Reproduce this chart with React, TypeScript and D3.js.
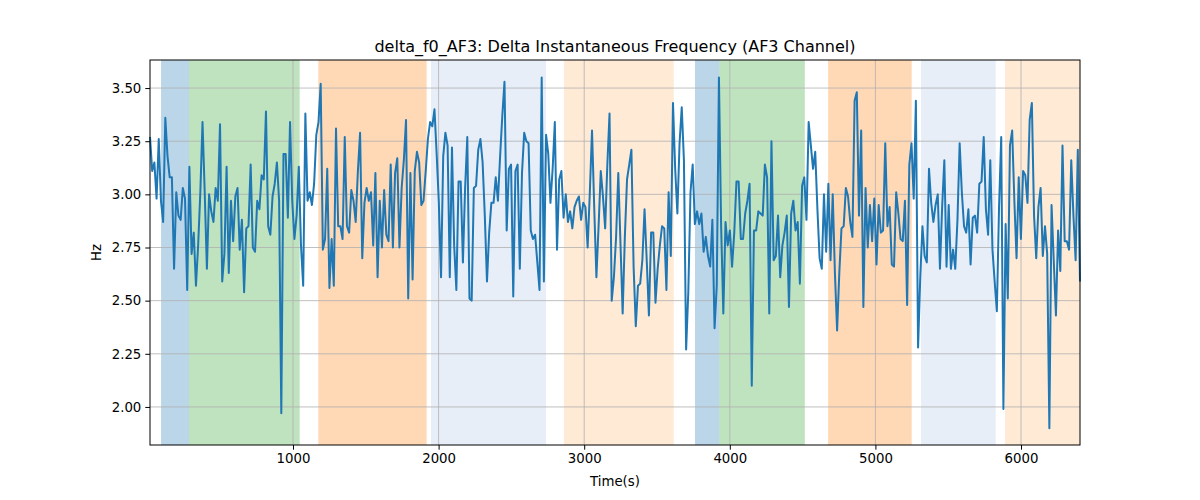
import React, { useEffect, useRef } from "react";
import * as d3 from "d3";

// values, one per sample (uniform sampling step)
const seriesA = [3.27,3.11,3.15,2.98,3.26,2.97,2.87,3.36,3.18,3.08,3.08,2.65,3.01,2.90,2.88,3.03,2.98,2.55,3.13,2.72,2.82,2.57,2.76,3.01,3.34,3.01,2.65,3.00,2.92,2.87,3.03,2.97,3.33,2.59,2.72,3.13,2.63,2.97,2.78,2.99,3.03,2.74,2.88,2.54,2.84,2.85,3.14,2.75,2.73,2.97,2.93,3.09,3.07,3.39,2.85,2.81,2.99,3.05,3.15,2.97,1.97,3.19,3.19,2.89,3.34,2.97,2.79,2.90,3.13,2.76,2.57,3.38];
const seriesB = [2.97,3.01,2.95,3.05,3.28,3.34,3.52,2.74,2.79,3.12,2.56,2.79,2.57,3.31,2.85,2.85,2.79,3.27,2.85,2.82,3.02,2.97,2.87,3.11,3.29,2.70,2.96,3.03,2.97,3.01,2.76,3.10,2.61,2.97,2.75,3.02,2.81,2.78,3.14,2.75,3.10,3.17,2.75,3.03,3.16,3.35,2.51,3.10,2.60,3.11,3.20,3.15,2.95,2.97,3.11,3.26,3.34,3.32,3.40,3.19,2.96,2.61,3.18,3.29,3.23,2.61,3.22,2.76,2.55,3.06,3.06,2.68];
const seriesC = [3.03,3.27,2.51,2.50,3.03,3.04,3.21,3.26,3.15,2.90,2.59,2.82,2.96,2.96,3.08,2.97,3.18,3.37,3.53,2.83,3.12,3.14,2.52,3.11,3.14,2.65,3.10,3.29,3.25,3.24,2.83,2.79,2.81,2.68,2.55,3.55,2.59,3.28,3.19,2.96,3.12,3.34,2.74,3.07,3.11,2.89,3.00,2.87,2.92,2.84,2.94,2.97,2.99,2.88,2.96,2.94,2.75,3.01,3.30,2.94,2.61,2.85,3.11,2.99,2.84,3.14,3.38,2.50,2.61,2.80,3.10];
const seriesD = [2.77,2.44,2.80,3.07,3.14,3.21,2.66,2.38,2.57,2.58,2.69,2.93,2.69,2.43,2.82,2.82,2.49,2.65,2.76,2.85,2.84,2.55,3.01,2.71,3.43,3.12,2.91,3.24,3.41,3.16,2.27,2.54,3.01,3.14,2.86,2.92,2.86,2.91,2.73,2.80,2.71,2.66,2.88,2.37,2.57,3.55,2.85,2.44,2.87,2.76,2.83,2.66,2.82,3.06,3.06,2.79,2.79,2.91,2.97,3.05,2.10,2.83,2.83,2.92,2.91,2.90,3.14,3.08,2.44,3.25,2.69];
const seriesE = [2.71,2.90,2.61,2.76,2.82,2.90,2.47,2.91,2.97,2.83,2.87,2.58,3.04,3.08,2.88,3.34,3.23,3.12,3.20,2.93,2.70,2.65,3.00,2.73,3.05,2.69,3.00,2.63,2.36,2.63,2.84,2.85,3.03,2.99,2.87,2.80,3.44,3.48,2.90,3.30,2.47,3.03,2.75,2.95,2.78,2.98,2.67,2.95,2.82,2.83,3.24,2.85,2.94,2.67,2.66,3.01,2.91,2.79,2.78,2.97,2.48,3.14,3.24,2.98,3.44,2.28,2.61,2.85,2.71,2.68,3.12];
const seriesF = [2.96,2.87,2.95,3.00,2.65,2.94,3.16,2.66,2.95,2.65,2.74,2.65,2.88,3.24,3.01,2.85,2.82,2.93,2.67,2.89,2.90,2.82,3.05,3.06,3.27,2.93,2.81,3.16,2.74,2.59,2.45,2.94,3.27,1.99,2.86,2.51,3.23,3.30,2.97,2.70,3.08,2.79,3.11,3.09,2.96,3.35,3.43,2.90,2.70,2.94,3.03,2.71,2.85,2.72,1.90,2.95,2.69,2.43,2.83,2.64,3.23,2.78,2.78,2.74,3.16,2.90,2.69,3.21,2.59];

const values = [...seriesA, ...seriesB, ...seriesC, ...seriesD, ...seriesE, ...seriesF];
const timeStart = 18;
const timeEnd = 6405;

// shaded segments (start, end, colour)
const bandStarts = [94, 286, 1174, 1948, 2861, 3761, 3928, 4675, 5313, 5890];
const bandEnds = [286, 1046, 1918, 2738, 3615, 3928, 4515, 5249, 5826, 6405];
const bandColors = ["#1f77b4", "#2ca02c", "#ff7f0e", "#aec7e8", "#ffbb78", "#1f77b4", "#2ca02c", "#ff7f0e", "#aec7e8", "#ffbb78"];

const xTicks = [1000, 2000, 3000, 4000, 5000, 6000];
const yTicks = [2.0, 2.25, 2.5, 2.75, 3.0, 3.25, 3.5];

const W = 1200;
const H = 500;
const margin = { top: 60, right: 120, bottom: 55, left: 150 };
const font = "DejaVu Sans, sans-serif";

const App: React.FC = () => {
  const svgRef = useRef<SVGSVGElement | null>(null);

  useEffect(() => {
    if (!svgRef.current) return;
    const svg = d3.select(svgRef.current);
    svg.selectAll("*").remove();

    const iw = W - margin.left - margin.right;
    const ih = H - margin.top - margin.bottom;

    const step = (timeEnd - timeStart) / (values.length - 1);
    const points = values.map((v, i) => ({ t: timeStart + i * step, v }));

    const x = d3.scaleLinear().domain([timeStart, timeEnd]).range([0, iw]);
    const y = d3.scaleLinear().domain([1.821, 3.632]).range([ih, 0]);

    const g = svg.append("g").attr("transform", `translate(${margin.left},${margin.top})`);

    // bands
    g.selectAll(".band")
      .data(bandStarts.map((s, i) => ({ s, e: bandEnds[i], c: bandColors[i] })))
      .enter()
      .append("rect")
      .attr("x", (d) => x(d.s))
      .attr("width", (d) => x(d.e) - x(d.s))
      .attr("y", 0)
      .attr("height", ih)
      .attr("fill", (d) => d.c)
      .attr("fill-opacity", 0.3);

    // grid
    g.selectAll(".gx")
      .data(xTicks)
      .enter()
      .append("line")
      .attr("x1", (d) => x(d))
      .attr("x2", (d) => x(d))
      .attr("y1", 0)
      .attr("y2", ih)
      .attr("stroke", "#b0b0b0")
      .attr("stroke-width", 0.8);
    g.selectAll(".gy")
      .data(yTicks)
      .enter()
      .append("line")
      .attr("x1", 0)
      .attr("x2", iw)
      .attr("y1", (d) => y(d))
      .attr("y2", (d) => y(d))
      .attr("stroke", "#b0b0b0")
      .attr("stroke-width", 0.8);

    // series line
    const line = d3.line<{ t: number; v: number }>().x((d) => x(d.t)).y((d) => y(d.v));
    g.append("path")
      .datum(points)
      .attr("d", line)
      .attr("fill", "none")
      .attr("stroke", "#1f77b4")
      .attr("stroke-width", 2)
      .attr("stroke-linejoin", "round");

    // axes
    const xAxis = g.append("g")
      .attr("transform", `translate(0,${ih})`)
      .call(d3.axisBottom(x).tickValues(xTicks).tickSize(4.7).tickPadding(4).tickFormat(d3.format("d")));
    const yAxis = g.append("g")
      .call(d3.axisLeft(y).tickValues(yTicks).tickSize(4.7).tickPadding(4).tickFormat(d3.format(".2f")));
    [xAxis, yAxis].forEach((a) => {
      a.select(".domain").remove();
      a.selectAll("text").attr("font-family", font).attr("font-size", 13.3).attr("fill", "#000");
      a.selectAll("line").attr("stroke", "#000").attr("stroke-width", 1);
    });

    // frame
    g.append("rect")
      .attr("width", iw)
      .attr("height", ih)
      .attr("fill", "none")
      .attr("stroke", "#000")
      .attr("stroke-width", 1);

    // labels
    svg.append("text")
      .attr("x", margin.left + iw / 2)
      .attr("y", 52)
      .attr("text-anchor", "middle")
      .attr("font-family", font)
      .attr("font-size", 16)
      .text("delta_f0_AF3: Delta Instantaneous Frequency (AF3 Channel)");
    svg.append("text")
      .attr("x", margin.left + iw / 2)
      .attr("y", 486)
      .attr("text-anchor", "middle")
      .attr("font-family", font)
      .attr("font-size", 13.3)
      .text("Time(s)");
    svg.append("text")
      .attr("transform", `translate(101,${margin.top + ih / 2}) rotate(-90)`)
      .attr("text-anchor", "middle")
      .attr("font-family", font)
      .attr("font-size", 13.3)
      .text("Hz");
  }, []);

  return (
    <svg
      ref={svgRef}
      width={W}
      height={H}
      style={{ position: "absolute", left: 0, top: 0, background: "#fff" }}
    />
  );
};

export default App;
